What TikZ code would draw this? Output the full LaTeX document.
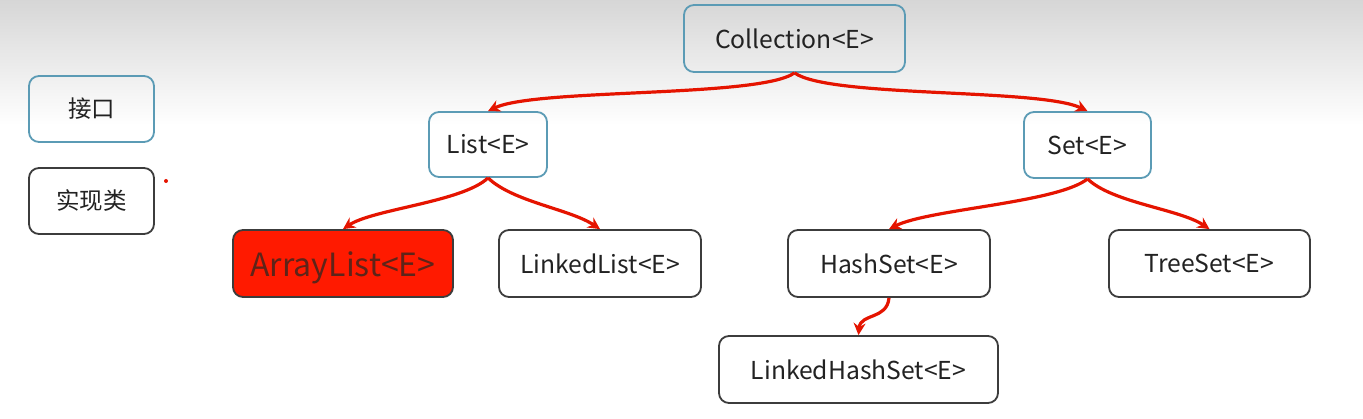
\documentclass[tikz,border=0pt]{standalone}
\usepackage{fontspec}
\setmainfont{Noto Sans CJK SC}
\usetikzlibrary{arrows.meta,calc}
\definecolor{ifblue}{HTML}{5B9BB5}
\definecolor{impgray}{HTML}{3C3C3C}
\definecolor{conred}{HTML}{E51400}
\definecolor{arrfill}{HTML}{FF1A00}
\definecolor{arrtext}{HTML}{5E2419}
\definecolor{txt}{HTML}{222222}
\tikzset{
  box/.style={rounded corners=10pt, line width=1.8pt, inner sep=0pt, text=txt,
    font=\fontsize{24.7}{28}\selectfont, anchor=center},
  iface/.style={box, draw=ifblue},
  impl/.style={box, draw=impgray},
  legtext/.style={font=\fontsize{23.5}{27}\selectfont},
  conn/.style={draw=conred, line width=3.2pt, -{Stealth[length=12pt,width=12pt]}},
}
\begin{document}
\begin{tikzpicture}[x=1pt,y=1pt]
\useasboundingbox (0,0) rectangle (1363,419);
\shade[top color=black!16, bottom color=white] (0,294) rectangle (1363,419);
% legend
\node[iface, legtext, minimum width=125pt, minimum height=66pt] (leg1) at (91.5,310) {接口};
\node[impl, legtext, minimum width=125pt, minimum height=66pt] (leg2) at (91.5,218) {实现类};
\fill[conred] (166,238) circle (2pt);
% tree
\node[iface, minimum width=221pt, minimum height=67pt] (coll) at (794.5,380.5) {Collection<E>};
\node[iface, minimum width=118pt, minimum height=65pt] (list) at (488,274.5) {List<E>};
\node[iface, minimum width=127pt, minimum height=66pt] (set) at (1087.5,274) {Set<E>};
\node[impl, fill=arrfill, text=arrtext, minimum width=220pt, minimum height=67pt,
  font=\fontsize{32}{36}\selectfont] (arr) at (343,155.5) {\raisebox{-13pt}[0pt][0pt]{ArrayList<E>}};
\node[impl, minimum width=202pt, minimum height=67pt] (ll) at (600,155.5) {LinkedList<E>};
\node[impl, minimum width=202pt, minimum height=67pt] (hs) at (889,155.5) {HashSet<E>};
\node[impl, minimum width=201pt, minimum height=67pt] (ts) at (1209.5,155.5) {TreeSet<E>};
\node[impl, minimum width=279pt, minimum height=67pt] (lhs) at (858.5,49.5) {LinkedHashSet<E>};
% connectors
\draw[conn] (coll.south) .. controls ($(coll.south)+(-35,-25)$) and ($(list.north)+(48,23)$) .. (list.north);
\draw[conn] (coll.south) .. controls ($(coll.south)+(35,-25)$) and ($(set.north)+(-48,23)$) .. (set.north);
\draw[conn] (list.south) .. controls ($(list.south)+(-25,-24)$) and ($(arr.north)+(30,20)$) .. (arr.north);
\draw[conn] (list.south) .. controls ($(list.south)+(25,-24)$) and ($(ll.north)+(-30,20)$) .. (ll.north);
\draw[conn] (set.south) .. controls ($(set.south)+(-30,-24)$) and ($(hs.north)+(40,20)$) .. (hs.north);
\draw[conn] (set.south) .. controls ($(set.south)+(25,-24)$) and ($(ts.north)+(-30,20)$) .. (ts.north);
\draw[conn] (hs.south) .. controls ($(hs.south)+(-2,-22)$) and ($(lhs.north)+(2,22)$) .. (lhs.north);
\end{tikzpicture}
\end{document}
